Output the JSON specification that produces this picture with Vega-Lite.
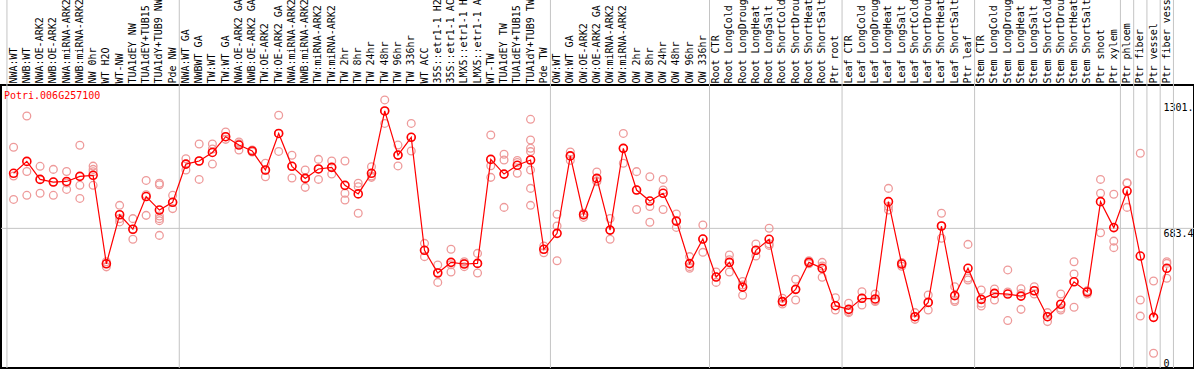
{
  "$schema": "https://vega.github.io/schema/vega-lite/v6.json",
  "autosize": {"type": "none"},
  "padding": {"left": 1, "top": 85, "right": 0, "bottom": 2},
  "width": 1193,
  "height": 283,
  "background": "white",
  "config": {"view": {"stroke": "black", "strokeWidth": 2}},
  "datasets": {
    "groups": [
      {"first": "NWA:WT"}, {"first": "NWA:WT GA"}, {"first": "OW:WT"}, {"first": "Root CTR"},
      {"first": "Leaf CTR"}, {"first": "Stem CTR"}, {"first": "Ptr phloem"}, {"first": "Ptr fiber"},
      {"first": "Ptr vessel"}, {"first": "Ptr fiber vessel"}
    ],
    "means": [
      {"sample": "NWA:WT", "value": 953}, {"sample": "NWB:WT", "value": 1011}, {"sample": "NWA:OE-ARK2", "value": 923},
      {"sample": "NWB:OE-ARK2", "value": 910}, {"sample": "NWA:miRNA-ARK2", "value": 913}, {"sample": "NWB:miRNA-ARK2", "value": 938},
      {"sample": "NW 0hr", "value": 943}, {"sample": "WT H2O", "value": 510}, {"sample": "WT-NW", "value": 750},
      {"sample": "TUA1dEY NW", "value": 679}, {"sample": "TUA1dEY+TUB15 NW", "value": 839}, {"sample": "TUA1dY+TUB9 NW", "value": 773},
      {"sample": "Pde NW", "value": 811},
      {"sample": "NWA:WT GA", "value": 998}, {"sample": "NWBWT GA", "value": 1013}, {"sample": "TW:WT", "value": 1055},
      {"sample": "TW:WT GA", "value": 1132}, {"sample": "NWA:OE-ARK2 GA", "value": 1091}, {"sample": "NWB:OE-ARK2 GA", "value": 1062},
      {"sample": "TW:OE-ARK2", "value": 969}, {"sample": "TW:OE-ARK2 GA", "value": 1148}, {"sample": "NWA:miRNA-ARK2 GA", "value": 987},
      {"sample": "NWB:miRNA-ARK2 GA", "value": 928}, {"sample": "TW:miRNA-ARK2", "value": 974}, {"sample": "TW:miRNA-ARK2 GA", "value": 982},
      {"sample": "TW 2hr", "value": 894}, {"sample": "TW 8hr", "value": 852}, {"sample": "TW 24hr", "value": 953},
      {"sample": "TW 48hr", "value": 1258}, {"sample": "TW 96hr", "value": 1042}, {"sample": "TW 336hr", "value": 1129},
      {"sample": "WT ACC", "value": 576}, {"sample": "35S::etr1-1 H2O", "value": 465}, {"sample": "35S::etr1-1 ACC", "value": 517},
      {"sample": "LMX5::etr1-1 H2O", "value": 509}, {"sample": "LMX5::etr1-1 ACC", "value": 512}, {"sample": "WT-TW", "value": 1021},
      {"sample": "TUA1dEY TW", "value": 949}, {"sample": "TUA1dEY+TUB15 TW", "value": 992}, {"sample": "TUA1dY+TUB9 TW", "value": 1018},
      {"sample": "Pde TW", "value": 581},
      {"sample": "OW:WT", "value": 659}, {"sample": "OW:WT GA", "value": 1038}, {"sample": "OW:OE-ARK2", "value": 750},
      {"sample": "OW:OE-ARK2 GA", "value": 928}, {"sample": "OW:miRNA-ARK2", "value": 675}, {"sample": "OW:miRNA-ARK2 GA", "value": 1075},
      {"sample": "OW 2hr", "value": 871}, {"sample": "OW 8hr", "value": 817}, {"sample": "OW 24hr", "value": 855},
      {"sample": "OW 48hr", "value": 719}, {"sample": "OW 96hr", "value": 511}, {"sample": "OW 336hr", "value": 631},
      {"sample": "Root CTR", "value": 445}, {"sample": "Root LongCold", "value": 517}, {"sample": "Root LongDrought", "value": 396},
      {"sample": "Root LongHeat", "value": 576}, {"sample": "Root LongSalt", "value": 630}, {"sample": "Root ShortCold", "value": 325},
      {"sample": "Root ShortDrought", "value": 385}, {"sample": "Root ShortHeat", "value": 517}, {"sample": "Root ShortSalt", "value": 488},
      {"sample": "Ptr root", "value": 305},
      {"sample": "Leaf CTR", "value": 287}, {"sample": "Leaf LongCold", "value": 341}, {"sample": "Leaf LongDrought", "value": 338},
      {"sample": "Leaf LongHeat", "value": 814}, {"sample": "Leaf LongSalt", "value": 509}, {"sample": "Leaf ShortCold", "value": 251},
      {"sample": "Leaf ShortDrought", "value": 321}, {"sample": "Leaf ShortHeat", "value": 695}, {"sample": "Leaf ShortSalt", "value": 354},
      {"sample": "Ptr leaf", "value": 488},
      {"sample": "Stem CTR", "value": 336}, {"sample": "Stem LongCold", "value": 365}, {"sample": "Stem LongDrought", "value": 362},
      {"sample": "Stem LongHeat", "value": 352}, {"sample": "Stem LongSalt", "value": 378}, {"sample": "Stem ShortCold", "value": 251},
      {"sample": "Stem ShortDrought", "value": 312}, {"sample": "Stem ShortHeat", "value": 422}, {"sample": "Stem ShortSalt", "value": 372},
      {"sample": "Ptr shoot", "value": 814}, {"sample": "Ptr xylem", "value": 687},
      {"sample": "Ptr phloem", "value": 866}, {"sample": "Ptr fiber", "value": 548}, {"sample": "Ptr vessel", "value": 248},
      {"sample": "Ptr fiber vessel", "value": 488}
    ],
    "reps": [
      {"sample": "NWA:WT", "value": 1080}, {"sample": "NWA:WT", "value": 940}, {"sample": "NWA:WT", "value": 825},
      {"sample": "NWB:WT", "value": 1233}, {"sample": "NWB:WT", "value": 962}, {"sample": "NWB:WT", "value": 845},
      {"sample": "NWA:OE-ARK2", "value": 987}, {"sample": "NWA:OE-ARK2", "value": 923}, {"sample": "NWA:OE-ARK2", "value": 855},
      {"sample": "NWB:OE-ARK2", "value": 972}, {"sample": "NWB:OE-ARK2", "value": 910}, {"sample": "NWB:OE-ARK2", "value": 845},
      {"sample": "NWA:miRNA-ARK2", "value": 962}, {"sample": "NWA:miRNA-ARK2", "value": 905}, {"sample": "NWA:miRNA-ARK2", "value": 874},
      {"sample": "NWB:miRNA-ARK2", "value": 1090}, {"sample": "NWB:miRNA-ARK2", "value": 894}, {"sample": "NWB:miRNA-ARK2", "value": 830},
      {"sample": "NW 0hr", "value": 988}, {"sample": "NW 0hr", "value": 972}, {"sample": "NW 0hr", "value": 960}, {"sample": "NW 0hr", "value": 894},
      {"sample": "WT H2O", "value": 520}, {"sample": "WT H2O", "value": 510}, {"sample": "WT H2O", "value": 495},
      {"sample": "WT-NW", "value": 796}, {"sample": "WT-NW", "value": 731}, {"sample": "WT-NW", "value": 715},
      {"sample": "TUA1dEY NW", "value": 731}, {"sample": "TUA1dEY NW", "value": 679}, {"sample": "TUA1dEY NW", "value": 630},
      {"sample": "TUA1dEY+TUB15 NW", "value": 918}, {"sample": "TUA1dEY+TUB15 NW", "value": 848}, {"sample": "TUA1dEY+TUB15 NW", "value": 747},
      {"sample": "TUA1dY+TUB9 NW", "value": 904}, {"sample": "TUA1dY+TUB9 NW", "value": 897}, {"sample": "TUA1dY+TUB9 NW", "value": 744},
      {"sample": "TUA1dY+TUB9 NW", "value": 731}, {"sample": "TUA1dY+TUB9 NW", "value": 721}, {"sample": "TUA1dY+TUB9 NW", "value": 649},
      {"sample": "Pde NW", "value": 845}, {"sample": "Pde NW", "value": 811}, {"sample": "Pde NW", "value": 780},
      {"sample": "NWA:WT GA", "value": 1024}, {"sample": "NWA:WT GA", "value": 998}, {"sample": "NWA:WT GA", "value": 969},
      {"sample": "NWBWT GA", "value": 1096}, {"sample": "NWBWT GA", "value": 1013}, {"sample": "NWBWT GA", "value": 923},
      {"sample": "TW:WT", "value": 1096}, {"sample": "TW:WT", "value": 1072}, {"sample": "TW:WT", "value": 998},
      {"sample": "TW:WT GA", "value": 1155}, {"sample": "TW:WT GA", "value": 1132}, {"sample": "TW:WT GA", "value": 1119},
      {"sample": "NWA:OE-ARK2 GA", "value": 1106}, {"sample": "NWA:OE-ARK2 GA", "value": 1097}, {"sample": "NWA:OE-ARK2 GA", "value": 1067},
      {"sample": "NWB:OE-ARK2 GA", "value": 1067}, {"sample": "NWB:OE-ARK2 GA", "value": 1062}, {"sample": "NWB:OE-ARK2 GA", "value": 1057},
      {"sample": "TW:OE-ARK2", "value": 1002}, {"sample": "TW:OE-ARK2", "value": 969}, {"sample": "TW:OE-ARK2", "value": 936},
      {"sample": "TW:OE-ARK2 GA", "value": 1237}, {"sample": "TW:OE-ARK2 GA", "value": 1148}, {"sample": "TW:OE-ARK2 GA", "value": 1060},
      {"sample": "NWA:miRNA-ARK2 GA", "value": 1041}, {"sample": "NWA:miRNA-ARK2 GA", "value": 987}, {"sample": "NWA:miRNA-ARK2 GA", "value": 930},
      {"sample": "NWB:miRNA-ARK2 GA", "value": 969}, {"sample": "NWB:miRNA-ARK2 GA", "value": 928}, {"sample": "NWB:miRNA-ARK2 GA", "value": 884},
      {"sample": "TW:miRNA-ARK2", "value": 1021}, {"sample": "TW:miRNA-ARK2", "value": 974}, {"sample": "TW:miRNA-ARK2", "value": 923},
      {"sample": "TW:miRNA-ARK2 GA", "value": 1013}, {"sample": "TW:miRNA-ARK2 GA", "value": 982}, {"sample": "TW:miRNA-ARK2 GA", "value": 949},
      {"sample": "TW 2hr", "value": 1013}, {"sample": "TW 2hr", "value": 855}, {"sample": "TW 2hr", "value": 822},
      {"sample": "TW 8hr", "value": 904}, {"sample": "TW 8hr", "value": 887}, {"sample": "TW 8hr", "value": 757},
      {"sample": "TW 24hr", "value": 985}, {"sample": "TW 24hr", "value": 940}, {"sample": "TW 24hr", "value": 933},
      {"sample": "TW 48hr", "value": 1312}, {"sample": "TW 48hr", "value": 1258}, {"sample": "TW 48hr", "value": 1197},
      {"sample": "TW 96hr", "value": 1091}, {"sample": "TW 96hr", "value": 1042}, {"sample": "TW 96hr", "value": 989},
      {"sample": "TW 336hr", "value": 1197}, {"sample": "TW 336hr", "value": 1129}, {"sample": "TW 336hr", "value": 1062},
      {"sample": "WT ACC", "value": 610}, {"sample": "WT ACC", "value": 576}, {"sample": "WT ACC", "value": 545},
      {"sample": "35S::etr1-1 H2O", "value": 504}, {"sample": "35S::etr1-1 H2O", "value": 467}, {"sample": "35S::etr1-1 H2O", "value": 419},
      {"sample": "35S::etr1-1 ACC", "value": 581}, {"sample": "35S::etr1-1 ACC", "value": 505}, {"sample": "35S::etr1-1 ACC", "value": 470},
      {"sample": "LMX5::etr1-1 H2O", "value": 520}, {"sample": "LMX5::etr1-1 H2O", "value": 512}, {"sample": "LMX5::etr1-1 H2O", "value": 496},
      {"sample": "LMX5::etr1-1 ACC", "value": 561}, {"sample": "LMX5::etr1-1 ACC", "value": 512}, {"sample": "LMX5::etr1-1 ACC", "value": 465},
      {"sample": "WT-TW", "value": 1140}, {"sample": "WT-TW", "value": 990}, {"sample": "WT-TW", "value": 933},
      {"sample": "TUA1dEY TW", "value": 1046}, {"sample": "TUA1dEY TW", "value": 1018}, {"sample": "TUA1dEY TW", "value": 786},
      {"sample": "TUA1dEY+TUB15 TW", "value": 1016}, {"sample": "TUA1dEY+TUB15 TW", "value": 1006}, {"sample": "TUA1dEY+TUB15 TW", "value": 953},
      {"sample": "TUA1dY+TUB9 TW", "value": 1217}, {"sample": "TUA1dY+TUB9 TW", "value": 1116}, {"sample": "TUA1dY+TUB9 TW", "value": 1075},
      {"sample": "TUA1dY+TUB9 TW", "value": 1059}, {"sample": "TUA1dY+TUB9 TW", "value": 969}, {"sample": "TUA1dY+TUB9 TW", "value": 879},
      {"sample": "TUA1dY+TUB9 TW", "value": 796},
      {"sample": "Pde TW", "value": 597}, {"sample": "Pde TW", "value": 581}, {"sample": "Pde TW", "value": 564},
      {"sample": "OW:WT", "value": 752}, {"sample": "OW:WT", "value": 695}, {"sample": "OW:WT", "value": 525},
      {"sample": "OW:WT GA", "value": 1057}, {"sample": "OW:WT GA", "value": 1038}, {"sample": "OW:WT GA", "value": 1016},
      {"sample": "OW:OE-ARK2", "value": 757}, {"sample": "OW:OE-ARK2", "value": 750}, {"sample": "OW:OE-ARK2", "value": 737},
      {"sample": "OW:OE-ARK2 GA", "value": 959}, {"sample": "OW:OE-ARK2 GA", "value": 915}, {"sample": "OW:OE-ARK2 GA", "value": 912},
      {"sample": "OW:miRNA-ARK2", "value": 732}, {"sample": "OW:miRNA-ARK2", "value": 675}, {"sample": "OW:miRNA-ARK2", "value": 630},
      {"sample": "OW:miRNA-ARK2 GA", "value": 1148}, {"sample": "OW:miRNA-ARK2 GA", "value": 1075}, {"sample": "OW:miRNA-ARK2 GA", "value": 1002},
      {"sample": "OW 2hr", "value": 961}, {"sample": "OW 2hr", "value": 871}, {"sample": "OW 2hr", "value": 776},
      {"sample": "OW 8hr", "value": 936}, {"sample": "OW 8hr", "value": 790}, {"sample": "OW 8hr", "value": 713},
      {"sample": "OW 24hr", "value": 923}, {"sample": "OW 24hr", "value": 871}, {"sample": "OW 24hr", "value": 776},
      {"sample": "OW 48hr", "value": 754}, {"sample": "OW 48hr", "value": 719}, {"sample": "OW 48hr", "value": 688},
      {"sample": "OW 96hr", "value": 545}, {"sample": "OW 96hr", "value": 496}, {"sample": "OW 96hr", "value": 488},
      {"sample": "OW 336hr", "value": 700}, {"sample": "OW 336hr", "value": 631}, {"sample": "OW 336hr", "value": 566},
      {"sample": "Root CTR", "value": 470}, {"sample": "Root CTR", "value": 445}, {"sample": "Root CTR", "value": 419},
      {"sample": "Root LongCold", "value": 553}, {"sample": "Root LongCold", "value": 530}, {"sample": "Root LongCold", "value": 470},
      {"sample": "Root LongDrought", "value": 423}, {"sample": "Root LongDrought", "value": 406}, {"sample": "Root LongDrought", "value": 356},
      {"sample": "Root LongHeat", "value": 607}, {"sample": "Root LongHeat", "value": 576}, {"sample": "Root LongHeat", "value": 548},
      {"sample": "Root LongSalt", "value": 684}, {"sample": "Root LongSalt", "value": 608}, {"sample": "Root LongSalt", "value": 600},
      {"sample": "Root ShortCold", "value": 341}, {"sample": "Root ShortCold", "value": 325}, {"sample": "Root ShortCold", "value": 313},
      {"sample": "Root ShortDrought", "value": 434}, {"sample": "Root ShortDrought", "value": 385}, {"sample": "Root ShortDrought", "value": 333},
      {"sample": "Root ShortHeat", "value": 525}, {"sample": "Root ShortHeat", "value": 517}, {"sample": "Root ShortHeat", "value": 510},
      {"sample": "Root ShortSalt", "value": 517}, {"sample": "Root ShortSalt", "value": 499}, {"sample": "Root ShortSalt", "value": 444},
      {"sample": "Ptr root", "value": 344}, {"sample": "Ptr root", "value": 305}, {"sample": "Ptr root", "value": 284},
      {"sample": "Leaf CTR", "value": 317}, {"sample": "Leaf CTR", "value": 276}, {"sample": "Leaf CTR", "value": 271},
      {"sample": "Leaf LongCold", "value": 373}, {"sample": "Leaf LongCold", "value": 341}, {"sample": "Leaf LongCold", "value": 308},
      {"sample": "Leaf LongDrought", "value": 362}, {"sample": "Leaf LongDrought", "value": 330}, {"sample": "Leaf LongDrought", "value": 325},
      {"sample": "Leaf LongHeat", "value": 879}, {"sample": "Leaf LongHeat", "value": 790}, {"sample": "Leaf LongHeat", "value": 773},
      {"sample": "Leaf LongSalt", "value": 516}, {"sample": "Leaf LongSalt", "value": 512}, {"sample": "Leaf LongSalt", "value": 498},
      {"sample": "Leaf ShortCold", "value": 271}, {"sample": "Leaf ShortCold", "value": 251}, {"sample": "Leaf ShortCold", "value": 238},
      {"sample": "Leaf ShortDrought", "value": 357}, {"sample": "Leaf ShortDrought", "value": 321}, {"sample": "Leaf ShortDrought", "value": 284},
      {"sample": "Leaf ShortHeat", "value": 757}, {"sample": "Leaf ShortHeat", "value": 695}, {"sample": "Leaf ShortHeat", "value": 635},
      {"sample": "Leaf ShortSalt", "value": 398}, {"sample": "Leaf ShortSalt", "value": 333}, {"sample": "Leaf ShortSalt", "value": 325},
      {"sample": "Ptr leaf", "value": 605}, {"sample": "Ptr leaf", "value": 440}, {"sample": "Ptr leaf", "value": 431},
      {"sample": "Stem CTR", "value": 382}, {"sample": "Stem CTR", "value": 317}, {"sample": "Stem CTR", "value": 303},
      {"sample": "Stem LongCold", "value": 387}, {"sample": "Stem LongCold", "value": 365}, {"sample": "Stem LongCold", "value": 333},
      {"sample": "Stem LongDrought", "value": 480}, {"sample": "Stem LongDrought", "value": 372}, {"sample": "Stem LongDrought", "value": 232},
      {"sample": "Stem LongHeat", "value": 388}, {"sample": "Stem LongHeat", "value": 365}, {"sample": "Stem LongHeat", "value": 287},
      {"sample": "Stem LongSalt", "value": 398}, {"sample": "Stem LongSalt", "value": 378}, {"sample": "Stem LongSalt", "value": 362},
      {"sample": "Stem ShortCold", "value": 271}, {"sample": "Stem ShortCold", "value": 251}, {"sample": "Stem ShortCold", "value": 227},
      {"sample": "Stem ShortDrought", "value": 362}, {"sample": "Stem ShortDrought", "value": 292}, {"sample": "Stem ShortDrought", "value": 284},
      {"sample": "Stem ShortHeat", "value": 520}, {"sample": "Stem ShortHeat", "value": 460}, {"sample": "Stem ShortHeat", "value": 297},
      {"sample": "Stem ShortSalt", "value": 378}, {"sample": "Stem ShortSalt", "value": 372}, {"sample": "Stem ShortSalt", "value": 362},
      {"sample": "Ptr shoot", "value": 923}, {"sample": "Ptr shoot", "value": 855}, {"sample": "Ptr shoot", "value": 662},
      {"sample": "Ptr xylem", "value": 850}, {"sample": "Ptr xylem", "value": 621}, {"sample": "Ptr xylem", "value": 589},
      {"sample": "Ptr phloem", "value": 907}, {"sample": "Ptr phloem", "value": 904}, {"sample": "Ptr phloem", "value": 786},
      {"sample": "Ptr fiber", "value": 1051}, {"sample": "Ptr fiber", "value": 333}, {"sample": "Ptr fiber", "value": 254},
      {"sample": "Ptr vessel", "value": 426}, {"sample": "Ptr vessel", "value": 72},
      {"sample": "Ptr fiber vessel", "value": 520}, {"sample": "Ptr fiber vessel", "value": 512}, {"sample": "Ptr fiber vessel", "value": 439}
    ]
  },
  "layer": [
    {
      "data": {"name": "groups"},
      "mark": {"type": "rule", "color": "#c4c4c4", "strokeWidth": 1},
      "encoding": {
        "x": {
          "field": "first",
          "type": "nominal",
          "bandPosition": 0,
          "scale": {
            "domain": ["NWA:WT","NWB:WT","NWA:OE-ARK2","NWB:OE-ARK2","NWA:miRNA-ARK2","NWB:miRNA-ARK2","NW 0hr","WT H2O","WT-NW","TUA1dEY NW","TUA1dEY+TUB15 NW","TUA1dY+TUB9 NW","Pde NW",
              "NWA:WT GA","NWBWT GA","TW:WT","TW:WT GA","NWA:OE-ARK2 GA","NWB:OE-ARK2 GA","TW:OE-ARK2","TW:OE-ARK2 GA","NWA:miRNA-ARK2 GA","NWB:miRNA-ARK2 GA","TW:miRNA-ARK2","TW:miRNA-ARK2 GA","TW 2hr","TW 8hr","TW 24hr","TW 48hr","TW 96hr","TW 336hr","WT ACC","35S::etr1-1 H2O","35S::etr1-1 ACC","LMX5::etr1-1 H2O","LMX5::etr1-1 ACC","WT-TW","TUA1dEY TW","TUA1dEY+TUB15 TW","TUA1dY+TUB9 TW","Pde TW",
              "OW:WT","OW:WT GA","OW:OE-ARK2","OW:OE-ARK2 GA","OW:miRNA-ARK2","OW:miRNA-ARK2 GA","OW 2hr","OW 8hr","OW 24hr","OW 48hr","OW 96hr","OW 336hr",
              "Root CTR","Root LongCold","Root LongDrought","Root LongHeat","Root LongSalt","Root ShortCold","Root ShortDrought","Root ShortHeat","Root ShortSalt","Ptr root",
              "Leaf CTR","Leaf LongCold","Leaf LongDrought","Leaf LongHeat","Leaf LongSalt","Leaf ShortCold","Leaf ShortDrought","Leaf ShortHeat","Leaf ShortSalt","Ptr leaf",
              "Stem CTR","Stem LongCold","Stem LongDrought","Stem LongHeat","Stem LongSalt","Stem ShortCold","Stem ShortDrought","Stem ShortHeat","Stem ShortSalt","Ptr shoot","Ptr xylem",
              "Ptr phloem","Ptr fiber","Ptr vessel","Ptr fiber vessel"],
            "paddingInner": 0,
            "paddingOuter": 1.8846,
            "align": 0.2245,
            "round": false
          },
          "axis": {
            "orient": "top",
            "labelAngle": 270,
            "labelAlign": "left",
            "labelBaseline": "middle",
            "labelFont": "DejaVu Sans Mono",
            "labelFontSize": 10,
            "labelColor": "black",
            "labelPadding": 2,
            "labelLimit": 0,
            "labelOverlap": false,
            "ticks": false,
            "domain": false,
            "grid": false,
            "title": null
          }
        },
        "y": {
          "datum": 0,
          "type": "quantitative",
          "scale": {"domain": [0, 1385], "nice": false, "zero": true},
          "axis": {
            "orient": "right",
            "offset": -31,
            "values": [0, 683.4, 1301],
            "labelExpr": "datum.value == 1301 ? '1301.' : toString(datum.value)",
            "labelFont": "DejaVu Sans Mono",
            "labelFontSize": 10,
            "labelColor": "black",
            "labelAlign": "left",
            "labelPadding": 0,
            "labelBaseline": {"condition": {"test": "datum.value == 0", "value": "bottom"}, "value": "top"},
            "ticks": false,
            "tickSize": 0,
            "domain": false,
            "grid": false,
            "title": null
          }
        },
        "y2": {"datum": 2800}
      }
    },
    {
      "data": {"values": [{"edge": "Ptr fiber vessel"}]},
      "mark": {"type": "rule", "color": "#c4c4c4", "strokeWidth": 1},
      "encoding": {
        "x": {"field": "edge", "type": "nominal", "bandPosition": 1},
        "y": {"datum": 0, "type": "quantitative"},
        "y2": {"datum": 2800}
      }
    },
    {
      "data": {"values": [{"value": 683.4}]},
      "mark": {"type": "rule", "color": "#c4c4c4", "strokeWidth": 1},
      "encoding": {"y": {"field": "value", "type": "quantitative"}}
    },
    {
      "data": {"name": "reps"},
      "mark": {"type": "point", "shape": "circle", "filled": false, "color": "#ee9a9a", "size": 60, "strokeWidth": 1.3, "opacity": 1},
      "encoding": {"x": {"field": "sample", "type": "nominal"}, "y": {"field": "value", "type": "quantitative"}}
    },
    {
      "data": {"name": "means"},
      "mark": {"type": "line", "color": "#ff0000", "strokeWidth": 1.2},
      "encoding": {"x": {"field": "sample", "type": "nominal"}, "y": {"field": "value", "type": "quantitative"}, "order": {"value": null}}
    },
    {
      "data": {"name": "means"},
      "mark": {"type": "point", "shape": "circle", "filled": false, "color": "#ff0000", "size": 64, "strokeWidth": 1.6, "opacity": 1},
      "encoding": {"x": {"field": "sample", "type": "nominal"}, "y": {"field": "value", "type": "quantitative"}}
    },
    {
      "data": {"values": [{"gene": "Potri.006G257100"}]},
      "mark": {"type": "text", "align": "left", "baseline": "top", "color": "#ff0000", "font": "DejaVu Sans Mono", "fontSize": 10, "dx": -3, "dy": 6},
      "encoding": {
        "x": {"datum": "NWA:WT", "type": "nominal", "bandPosition": 0},
        "y": {"datum": 1385, "type": "quantitative"},
        "text": {"field": "gene"}
      }
    }
  ]
}
